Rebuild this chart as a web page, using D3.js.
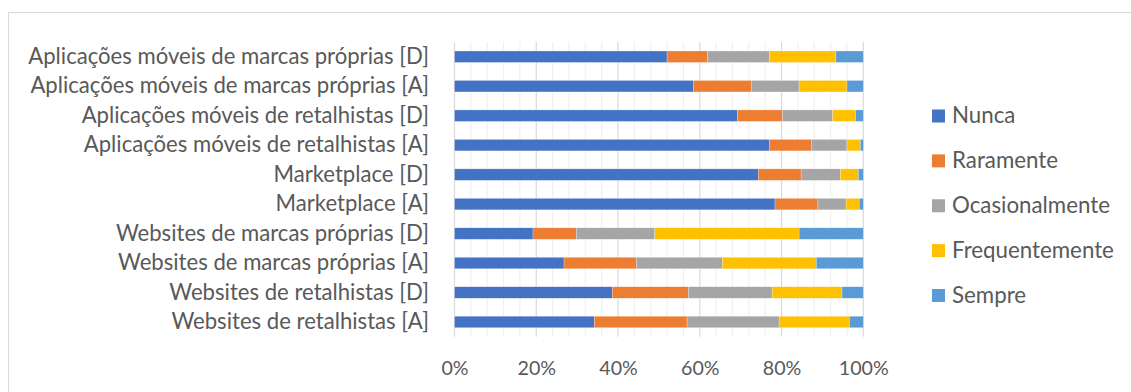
<!DOCTYPE html>
<html>
<head>
<meta charset="utf-8">
<script src="https://cdn.jsdelivr.net/npm/d3@7"></script>
<style>
  html, body { margin: 0; padding: 0; background: #fff; }
  svg { display: block; }
  text { font-family: Lato, "Open Sans", sans-serif; fill: #595959; }
</style>
</head>
<body>
<svg id="chart" width="1131" height="392"></svg>
<script>
// Categories, top to bottom
const categories = [
  "Aplicações móveis de marcas próprias [D]",
  "Aplicações móveis de marcas próprias [A]",
  "Aplicações móveis de retalhistas [D]",
  "Aplicações móveis de retalhistas [A]",
  "Marketplace [D]",
  "Marketplace [A]",
  "Websites de marcas próprias [D]",
  "Websites de marcas próprias [A]",
  "Websites de retalhistas [D]",
  "Websites de retalhistas [A]"
];

const seriesNames = ["Nunca", "Raramente", "Ocasionalmente", "Frequentemente", "Sempre"];

// Share of answers (%) per category, one array per series
const nunca          = [52.0, 58.4, 69.2, 77.1, 74.3, 78.4, 19.2, 26.8, 38.6, 34.2];
const raramente      = [ 9.9, 14.2, 11.0, 10.3, 10.5, 10.5, 10.6, 17.7, 18.6, 22.7];
const ocasionalmente = [15.1, 11.7, 12.3,  8.6,  9.6,  6.9, 19.2, 21.0, 20.5, 22.5];
const frequentemente = [16.3, 11.7,  5.6,  3.3,  4.4,  3.2, 35.3, 23.0, 17.1, 17.2];
const sempre         = [ 6.7,  4.0,  1.9,  0.7,  1.2,  1.0, 15.7, 11.5,  5.2,  3.4];

const tickValues = [0, 0.2, 0.4, 0.6, 0.8, 1.0];
const colors = ["#4472C4", "#ED7D31", "#A5A5A5", "#FFC000", "#5B9BD5"];

const seriesValues = [nunca, raramente, ocasionalmente, frequentemente, sempre];
const rows = categories.map((c, i) => {
  const r = { category: c };
  seriesNames.forEach((s, j) => { r[s] = seriesValues[j][i]; });
  return r;
});

const svg = d3.select("#chart");

// font size giving a text a wanted width
function fitSize(str, width) {
  const t = svg.append("text").style("font-size", "20px").text(str);
  const w = t.node().getComputedTextLength();
  t.remove();
  return 20 * width / w;
}
const labelSize = fitSize(categories[0], 401);
const legendSize = fitSize("Frequentemente", 162);
const tickSize = fitSize("100%", 50);

// chart frame
svg.append("rect")
  .attr("x", 8.5).attr("y", 12.5)
  .attr("width", 1140).attr("height", 400)
  .attr("fill", "none").attr("stroke", "#d9d9d9").attr("stroke-width", 1);

const plot = { left: 454.5, right: 863.3, top: 42, bottom: 336.7 };

// stacked values normalised to 100%
const stack = d3.stack().keys(seriesNames).offset(d3.stackOffsetExpand);
const stacked = stack(rows);

const x = d3.scaleLinear().domain([0, 1]).range([plot.left, plot.right]);
const y = d3.scaleBand().domain(categories).range([plot.top, plot.bottom]).paddingInner(0.61).paddingOuter(0.305);

// minor and major vertical gridlines
const g = svg.append("g");
g.selectAll("line.minor")
  .data(d3.range(0, 1.0001, 0.04).filter(v => Math.round(v * 100) % 20 !== 0))
  .join("line")
  .attr("class", "minor")
  .attr("x1", d => x(d)).attr("x2", d => x(d))
  .attr("y1", plot.top).attr("y2", plot.bottom)
  .attr("stroke", "#f0f0f0").attr("stroke-width", 1.2);

g.selectAll("line.major")
  .data(tickValues)
  .join("line")
  .attr("class", "major")
  .attr("x1", d => x(d)).attr("x2", d => x(d))
  .attr("y1", plot.top).attr("y2", plot.bottom)
  .attr("stroke", "#d9d9d9").attr("stroke-width", 1.2);

// stacked bars
svg.append("g")
  .selectAll("g")
  .data(stacked)
  .join("g")
  .attr("fill", (d, i) => colors[i])
  .selectAll("rect")
  .data(d => d)
  .join("rect")
  .attr("x", d => x(d[0]))
  .attr("width", d => x(d[1]) - x(d[0]))
  .attr("y", d => y(d.data.category))
  .attr("height", y.bandwidth())
  .attr("stroke", "#ffffff").attr("stroke-width", 0.5).attr("stroke-opacity", 0.5);

// x axis labels
const xAxis = d3.axisBottom(x)
  .tickValues(tickValues)
  .tickFormat(d3.format(".0%"))
  .tickSize(0)
  .tickPadding(0);
const xg = svg.append("g")
  .attr("transform", `translate(0,${plot.bottom})`)
  .call(xAxis);
xg.select(".domain").remove();
xg.selectAll("text")
  .attr("dy", null).attr("y", 33)
  .attr("dominant-baseline", "middle")
  .style("font-size", tickSize + "px")
  .style("font-family", "Lato, 'Open Sans', sans-serif")
  .attr("fill", "#595959");

// category axis labels
const yAxis = d3.axisLeft(y).tickSize(0).tickPadding(25.5);
const yg = svg.append("g")
  .attr("transform", `translate(${plot.left},0)`)
  .call(yAxis);
yg.select(".domain").remove();
yg.selectAll("text")
  .attr("dy", "1.5")
  .attr("dominant-baseline", "middle")
  .style("font-size", labelSize + "px")
  .style("font-family", "Lato, 'Open Sans', sans-serif")
  .attr("fill", "#595959");

// legend
const legend = svg.append("g").attr("transform", "translate(932,0)");
const legendY = d3.scalePoint().domain(seriesNames).range([116, 295.5]);
const items = legend.selectAll("g")
  .data(seriesNames)
  .join("g")
  .attr("transform", d => `translate(0,${legendY(d)})`);
items.append("rect")
  .attr("x", 0).attr("y", -6.5)
  .attr("width", 13).attr("height", 13)
  .attr("fill", (d, i) => colors[i]);
items.append("text")
  .attr("x", 20).attr("y", 1.5)
  .attr("dominant-baseline", "middle")
  .style("font-size", legendSize + "px")
  .text(d => d);
</script>
</body>
</html>
